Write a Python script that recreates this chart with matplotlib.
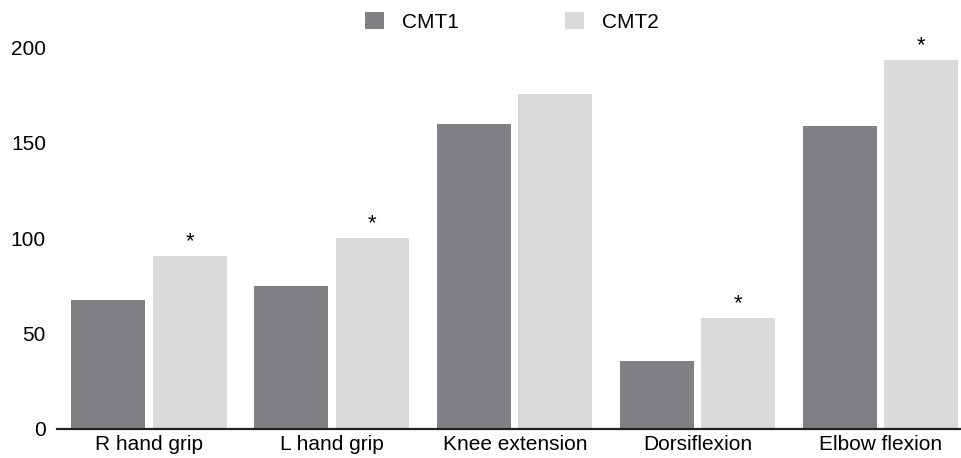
import numpy as np
import matplotlib
matplotlib.use("Agg")
import matplotlib.pyplot as plt

plt.rcParams['font.family'] = ['Liberation Sans', 'DejaVu Sans']

categories = ['R hand grip', 'L hand grip', 'Knee extension', 'Dorsiflexion', 'Elbow flexion']
cmt1 = [67.5, 74.9, 159.7, 35.6, 158.6]
cmt2 = [90.6, 100.0, 175.4, 58.1, 193.2]
significant = [True, True, False, True, True]
yticks = [0, 50, 100, 150, 200]

dark = '#808185'
light = '#d9dadc'

fig = plt.figure(figsize=(9.61, 4.58), dpi=100)
ax = fig.add_axes([57 / 961, 1 - 429 / 458, 1 - 57 / 961, (429 - 47) / 458])

x = np.arange(len(categories))
w = 0.404
off = 0.222
b1 = ax.bar(x - off, cmt1, w, color=dark, label='CMT1')
b2 = ax.bar(x + off, cmt2, w, color=light, label='CMT2')

for xi, v, s in zip(x, cmt2, significant):
    if s:
        ax.annotate('*', (xi + off, v), xytext=(0, 3), textcoords='offset points',
                    ha='center', va='bottom', fontsize=16, annotation_clip=False)

ax.set_xlim(-0.503, 4.44)
ax.set_ylim(0, 200)
ax.set_xticks(x)
ax.set_xticklabels(categories)
ax.set_yticks(yticks)
ax.tick_params(axis='both', length=0, labelsize=15)
ax.tick_params(axis='y', pad=8)
ax.tick_params(axis='x', pad=4)
for side in ['top', 'right', 'left']:
    ax.spines[side].set_visible(False)
ax.spines['bottom'].set_linewidth(1.6)
ax.spines['bottom'].set_color('#222222')

fig.legend(handles=[b1, b2], loc='center', bbox_to_anchor=(0.533, 0.952), ncol=2,
           frameon=False, fontsize=15, handlelength=0.9, handleheight=0.9,
           handletextpad=0.87, columnspacing=5.1)

fig.savefig('out.png', dpi=100)
